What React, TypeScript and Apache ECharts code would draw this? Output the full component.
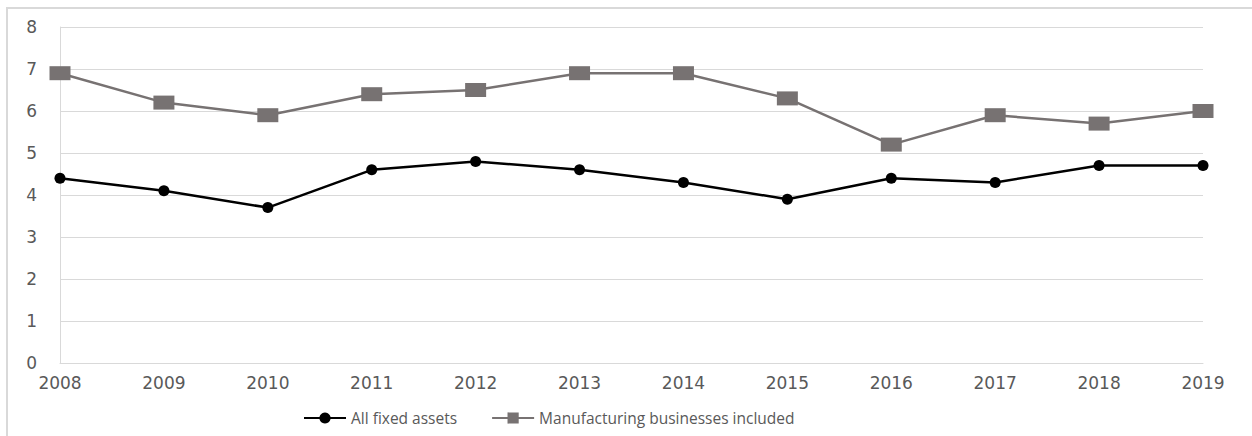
import React, { useEffect, useRef } from "react";
import * as echarts from "echarts";

const years = ["2008", "2009", "2010", "2011", "2012", "2013", "2014", "2015", "2016", "2017", "2018", "2019"];
const allFixedAssets = [4.4, 4.1, 3.7, 4.6, 4.8, 4.6, 4.3, 3.9, 4.4, 4.3, 4.7, 4.7];
const manufacturingIncluded = [6.9, 6.2, 5.9, 6.4, 6.5, 6.9, 6.9, 6.3, 5.2, 5.9, 5.7, 6.0];
const seriesNames = ["All fixed assets", "Manufacturing businesses included"];

export default function App() {
  const ref = useRef<HTMLDivElement>(null);
  useEffect(() => {
    document.body.style.margin = "0";
    const chart = echarts.init(ref.current!, null, { renderer: "svg" });
    const font = "'Open Sans', sans-serif";
    const axisFont = "'DejaVu Sans', sans-serif";
    chart.setOption({
      animation: false,
      backgroundColor: "#ffffff",
      textStyle: { fontFamily: font },
      graphic: [
        {
          type: "rect",
          shape: { x: 7, y: 8, width: 1270, height: 450 },
          style: { fill: "none", stroke: "#d9d9d9", lineWidth: 2 },
          silent: true,
          z: -10,
        },
      ],
      grid: { left: 60, right: 49, top: 27, bottom: 73, containLabel: false },
      legend: {
        left: 303,
        top: 410,
        padding: 0,
        itemWidth: 42,
        itemHeight: 14,
        itemGap: 34,
        textStyle: { fontFamily: font, fontSize: 15.5, color: "#595959" },
        data: seriesNames,
      },
      xAxis: {
        type: "category",
        data: years,
        boundaryGap: false,
        axisLine: { show: true, lineStyle: { color: "#d9d9d9", width: 1 } },
        axisTick: { show: false },
        axisLabel: { fontFamily: axisFont, fontSize: 17, color: "#595959", margin: 11 },
        splitLine: { show: false },
      },
      yAxis: {
        type: "value",
        min: 0,
        max: 8,
        interval: 1,
        axisLine: { show: true, lineStyle: { color: "#d9d9d9", width: 1 } },
        axisTick: { show: false },
        axisLabel: { fontFamily: axisFont, fontSize: 17, color: "#595959", margin: 23 },
        splitLine: { show: true, lineStyle: { color: "#d9d9d9", width: 1 } },
      },
      series: [
        {
          name: seriesNames[0],
          type: "line",
          data: allFixedAssets,
          symbol: "circle",
          symbolSize: 11,
          lineStyle: { color: "#000000", width: 2.5 },
          itemStyle: { color: "#000000" },
        },
        {
          name: seriesNames[1],
          type: "line",
          data: manufacturingIncluded,
          symbol: "rect",
          symbolSize: [21, 14],
          lineStyle: { color: "#777272", width: 2.5 },
          itemStyle: { color: "#777272" },
        },
      ],
    });
    return () => chart.dispose();
  }, []);
  return <div ref={ref} style={{ width: 1252, height: 436 }} />;
}
